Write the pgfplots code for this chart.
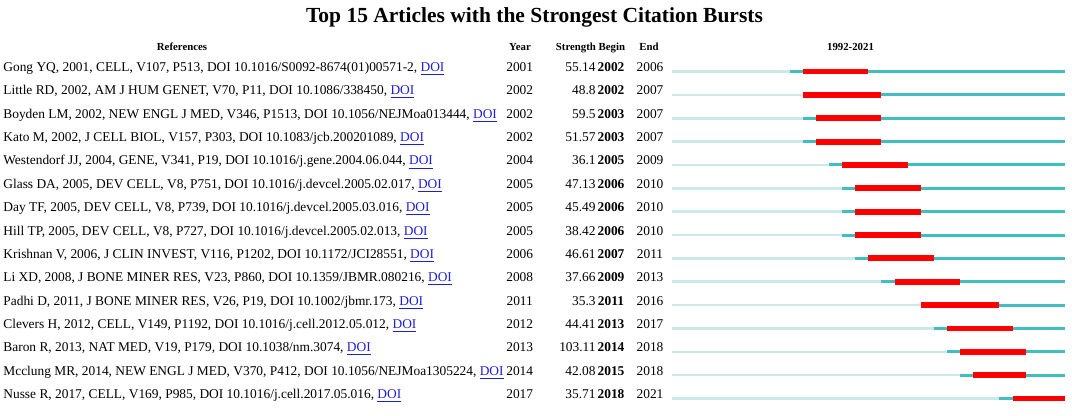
\documentclass[border=0pt]{standalone}
\usepackage{fontspec}
\setmainfont{Liberation Serif}
\usepackage{pgfplots}
\usepackage{pgfplotstable}
\pgfplotsset{compat=1.18}
\definecolor{lightc}{RGB}{204,232,235}
\definecolor{tealc}{RGB}{66,190,192}
\definecolor{burst}{RGB}{255,0,0}
\definecolor{doiblue}{RGB}{30,30,210}
\pgfplotstableread{
row year strength begin end
1  2001 55.14  2002 2006
2  2002 48.8   2002 2007
3  2002 59.5   2003 2007
4  2002 51.57  2003 2007
5  2004 36.1   2005 2009
6  2005 47.13  2006 2010
7  2005 45.49  2006 2010
8  2005 38.42  2006 2010
9  2006 46.61  2007 2011
10 2008 37.66  2009 2013
11 2011 35.3   2011 2016
12 2012 44.41  2013 2017
13 2013 103.11 2014 2018
14 2014 42.08  2015 2018
15 2017 35.71  2018 2021
}\bursts
\newcommand\body{\fontsize{6.7pt}{7.5pt}\selectfont}
\newcommand\head{\fontsize{5.4pt}{6pt}\selectfont\bfseries}
\newcommand\Row[6]{%
  \pgfmathsetmacro\yy{71.6+23.35*(#1-1)}%
  \node[anchor=base west,inner sep=0pt,font=\body] at (3,\yy) {#2, \textcolor{doiblue}{\underline{DOI}}};
  \node[anchor=base,inner sep=0pt,font=\body] at (519.7,\yy) {#3};
  \node[anchor=base east,inner sep=0pt,font=\body] at (596,\yy) {#4};
  \node[anchor=base,inner sep=0pt,font=\body\bfseries] at (611,\yy) {#5};
  \node[anchor=base,inner sep=0pt,font=\body] at (650,\yy) {#6};
}
\begin{document}
\begin{tikzpicture}
\begin{scope}[x=0.5pt,y=-0.5pt]
\useasboundingbox (0,0) rectangle (1072,416);
\end{scope}
\begin{axis}[at={(335.85pt,-24.125pt)}, anchor=north west, scale only axis,
  width=196.65pt, height=186.8pt,
  xmin=1992, xmax=2022, ymin=0, ymax=16, y dir=reverse,
  axis lines=none, ticks=none, clip=false]
\addplot[lightc, line width=1.25pt, mark=none, forget plot,
  quiver={u=\thisrow{year}-1992, v=0}]
  table[x expr=1992, y=row] {\bursts};
\addplot[tealc, line width=1.5pt, mark=none, forget plot,
  quiver={u=2022-\thisrow{year}, v=0}]
  table[x=year, y=row] {\bursts};
\addplot[burst, line width=2.9pt, mark=none, forget plot,
  quiver={u=\thisrow{end}+1-\thisrow{begin}, v=0}]
  table[x=begin, y=row] {\bursts};
\end{axis}
\begin{scope}[x=0.5pt,y=-0.5pt]
\node[anchor=base,inner sep=0pt,font=\fontsize{10.75pt}{12pt}\selectfont\bfseries] at (534.5,22.7) {Top 15 Articles with the Strongest Citation Bursts};
\node[anchor=base,inner sep=0pt,font=\head] at (182,51) {References};
\node[anchor=base,inner sep=0pt,font=\head] at (520,51) {Year};
\node[anchor=base,inner sep=0pt,font=\head] at (590.5,51) {Strength Begin};
\node[anchor=base,inner sep=0pt,font=\head] at (649,51) {End};
\node[anchor=base,inner sep=0pt,font=\head] at (850.5,51) {1992-2021};
\Row{1}{Gong YQ, 2001, CELL, V107, P513, DOI 10.1016/S0092-8674(01)00571-2}{2001}{55.14}{2002}{2006}
\Row{2}{Little RD, 2002, AM J HUM GENET, V70, P11, DOI 10.1086/338450}{2002}{48.8}{2002}{2007}
\Row{3}{Boyden LM, 2002, NEW ENGL J MED, V346, P1513, DOI 10.1056/NEJMoa013444}{2002}{59.5}{2003}{2007}
\Row{4}{Kato M, 2002, J CELL BIOL, V157, P303, DOI 10.1083/jcb.200201089}{2002}{51.57}{2003}{2007}
\Row{5}{Westendorf JJ, 2004, GENE, V341, P19, DOI 10.1016/j.gene.2004.06.044}{2004}{36.1}{2005}{2009}
\Row{6}{Glass DA, 2005, DEV CELL, V8, P751, DOI 10.1016/j.devcel.2005.02.017}{2005}{47.13}{2006}{2010}
\Row{7}{Day TF, 2005, DEV CELL, V8, P739, DOI 10.1016/j.devcel.2005.03.016}{2005}{45.49}{2006}{2010}
\Row{8}{Hill TP, 2005, DEV CELL, V8, P727, DOI 10.1016/j.devcel.2005.02.013}{2005}{38.42}{2006}{2010}
\Row{9}{Krishnan V, 2006, J CLIN INVEST, V116, P1202, DOI 10.1172/JCI28551}{2006}{46.61}{2007}{2011}
\Row{10}{Li XD, 2008, J BONE MINER RES, V23, P860, DOI 10.1359/JBMR.080216}{2008}{37.66}{2009}{2013}
\Row{11}{Padhi D, 2011, J BONE MINER RES, V26, P19, DOI 10.1002/jbmr.173}{2011}{35.3}{2011}{2016}
\Row{12}{Clevers H, 2012, CELL, V149, P1192, DOI 10.1016/j.cell.2012.05.012}{2012}{44.41}{2013}{2017}
\Row{13}{Baron R, 2013, NAT MED, V19, P179, DOI 10.1038/nm.3074}{2013}{103.11}{2014}{2018}
\Row{14}{Mcclung MR, 2014, NEW ENGL J MED, V370, P412, DOI 10.1056/NEJMoa1305224}{2014}{42.08}{2015}{2018}
\Row{15}{Nusse R, 2017, CELL, V169, P985, DOI 10.1016/j.cell.2017.05.016}{2017}{35.71}{2018}{2021}
\end{scope}
\end{tikzpicture}
\end{document}
